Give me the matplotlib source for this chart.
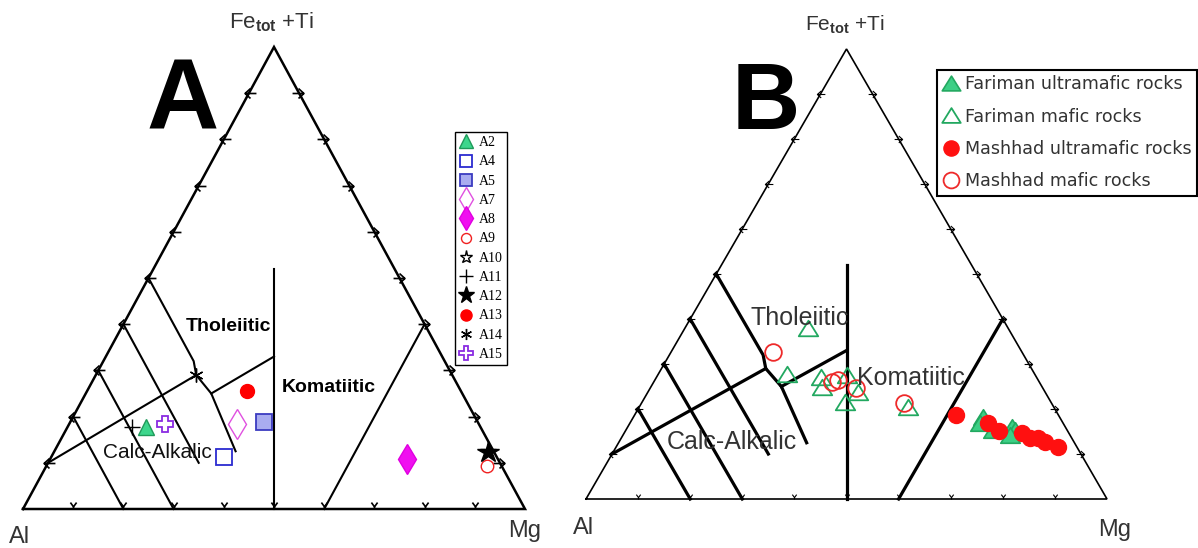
import matplotlib
matplotlib.use('Agg')
import matplotlib.pyplot as plt
from matplotlib.path import Path
import numpy as np

plt.rcParams['font.family'] = ['Liberation Sans', 'DejaVu Sans']
plt.rcParams['mathtext.fontset'] = 'custom'
plt.rcParams['mathtext.rm'] = 'Liberation Sans'
plt.rcParams['mathtext.bf'] = 'Liberation Sans:bold'

# Jensen cation plot boundaries, points given as (Al, Fe+Ti, Mg)
boundaries = [
    [(0.5, 0.0, 0.5), (0.24, 0.52, 0.24)],
    [(0.4, 0.0, 0.6), (0.0, 0.4, 0.6)],
    [(0.8, 0.2, 0.0), (0.8, 0.0, 0.2)],
    [(0.7, 0.3, 0.0), (0.7, 0.0, 0.3)],
    [(0.6, 0.4, 0.0), (0.6, 0.1, 0.3)],
    [(0.5, 0.5, 0.0), (0.5, 0.32, 0.18), (0.51, 0.29, 0.20),
     (0.5, 0.25, 0.25), (0.514, 0.125, 0.361)],
    [(0.9, 0.1, 0.0), (0.51, 0.29, 0.20)],
    [(0.5, 0.25, 0.25), (0.335, 0.33, 0.335)],
]

# panel A samples
a_names = ['A2', 'A4', 'A5', 'A7', 'A8', 'A9', 'A10', 'A11', 'A12', 'A13', 'A14', 'A15']
a_al = [0.666, 0.543, 0.426, 0.482, 0.181, 0.029, 0.012, 0.694, 0.012, 0.426, 0.510, 0.625]
a_fe = [0.178, 0.113, 0.188, 0.184, 0.108, 0.093, 0.123, 0.178, 0.123, 0.255, 0.290, 0.184]
a_mg = [0.156, 0.344, 0.386, 0.334, 0.711, 0.878, 0.865, 0.128, 0.865, 0.319, 0.200, 0.191]

# panel B groups
fum_al = [0.147, 0.159, 0.142, 0.102, 0.100, 0.115]
fum_fe = [0.182, 0.169, 0.153, 0.160, 0.153, 0.142]
fum_mg = [0.671, 0.672, 0.705, 0.738, 0.747, 0.743]

fmaf_al = [0.384, 0.475, 0.413, 0.422, 0.361, 0.359, 0.395, 0.280]
fmaf_fe = [0.380, 0.278, 0.271, 0.249, 0.276, 0.238, 0.216, 0.204]
fmaf_mg = [0.236, 0.247, 0.316, 0.329, 0.363, 0.403, 0.389, 0.516]

mum_al = [0.196, 0.144, 0.132, 0.090, 0.080, 0.065, 0.056, 0.036]
mum_fe = [0.187, 0.169, 0.151, 0.147, 0.136, 0.136, 0.127, 0.116]
mum_mg = [0.617, 0.687, 0.717, 0.763, 0.784, 0.799, 0.817, 0.848]

mmaf_al = [0.477, 0.398, 0.384, 0.358, 0.283]
mmaf_fe = [0.327, 0.260, 0.264, 0.247, 0.213]
mmaf_mg = [0.196, 0.342, 0.352, 0.395, 0.504]

b_labels = ['Fariman ultramafic rocks', 'Fariman mafic rocks',
            'Mashhad ultramafic rocks', 'Mashhad mafic rocks']

a_styles = {
    'A2': dict(marker='^', mfc='#3dd68c', mec='#1f9a5a', ms=12, mew=1),
    'A4': dict(marker='s', mfc='none', mec='#2b2bd0', ms=11, mew=1.3),
    'A5': dict(marker='s', mfc='#a9acf0', mec='#3b3bc0', ms=11, mew=1.3),
    'A7': dict(marker='d', mfc='none', mec='#e050e0', ms=15, mew=1),
    'A8': dict(marker='d', mfc='#f010f0', mec='#e000e0', ms=15, mew=1),
    'A9': dict(marker='o', mfc='none', mec='#f02020', ms=9, mew=1),
    'A10': dict(marker='*', mfc='none', mec='k', ms=12, mew=1),
    'A11': dict(marker='+', mec='k', ms=12, mew=1),
    'A12': dict(marker='*', mfc='k', mec='k', ms=16, mew=1),
    'A13': dict(marker='o', mfc='#ff0000', mec='#ff0000', ms=10, mew=1),
    'A14': dict(marker=(6, 2, 0), mec='k', ms=10, mew=1),
    'A15': dict(marker='P', mfc='none', mec='#8a2be2', ms=12, mew=1.3),
}


def tern_xy(al, fe, mg):
    al, fe, mg = (np.asarray(v, dtype=float) for v in (al, fe, mg))
    s = al + fe + mg
    return (mg + fe / 2) / s, fe / s


def tick_path(side):
    if side == 'base':
        verts = np.array([(0, 0), (0, 0.35), (-0.4, 0.9), (0, 0.35), (0.4, 0.9)])
    else:
        verts = np.array([(0.7, 0), (-0.45, 0), (0.1, 0.5), (-0.45, 0), (0.1, -0.5)])
        if side == 'right':
            verts[:, 0] *= -1
    codes = [Path.MOVETO, Path.LINETO, Path.MOVETO, Path.LINETO, Path.LINETO]
    return Path(verts, codes)


tri_marker = Path([(0, 0.8), (-1, -0.8), (1, -0.8), (0, 0.8)],
                  [Path.MOVETO, Path.LINETO, Path.LINETO, Path.CLOSEPOLY])

W, H = 1198, 548
fig = plt.figure(figsize=(W / 100, H / 100), dpi=100)


def tri_axes(left, right, top, base):
    ax = fig.add_axes([left / W, 1 - base / H, (right - left) / W, (base - top) / H])
    ax.set_xlim(0, 1)
    ax.set_ylim(0, 1)
    ax.axis('off')
    return ax


def draw_frame(ax, edge_lw, line_lw, tick_ms, tick_lw):
    ax.plot([0, 1, 0.5, 0], [0, 0, 1, 0], color='k', lw=edge_lw,
            clip_on=False, solid_joinstyle='miter')
    for b in boundaries:
        al, fe, mg = zip(*b)
        x, y = tern_xy(al, fe, mg)
        ax.plot(x, y, color='k', lw=line_lw, clip_on=False)
    t = np.arange(1, 10) / 10
    kw = dict(ls='none', ms=tick_ms, mfc='none', mec='k', mew=tick_lw, clip_on=False)
    ax.plot(t / 2, t, marker=tick_path('left'), **kw)
    ax.plot(1 - t / 2, t, marker=tick_path('right'), **kw)
    ax.plot(t, np.zeros_like(t), marker=tick_path('base'), **kw)


# ---------------- panel A ----------------
axA = tri_axes(23, 525, 47, 509)
draw_frame(axA, 1.8, 1.5, 10, 1.2)
handles = []
for i, name in enumerate(a_names):
    x, y = tern_xy([a_al[i]], [a_fe[i]], [a_mg[i]])
    h, = axA.plot(x, y, ls='none', label=name, clip_on=False, **a_styles[name])
    handles.append(h)

axA.text(0.410, 0.394, 'Tholeiitic', fontsize=14, fontweight='bold', ha='center', va='center')
axA.text(0.610, 0.262, 'Komatiitic', fontsize=14, fontweight='bold', ha='center', va='center')
axA.text(0.267, 0.123, 'Calc-Alkalic', fontsize=15, color='#111111', ha='center', va='center')
axA.text(0.494, 1.054, r'Fe$_{\mathbf{tot}}$ +Ti', fontsize=16, color='#333333', ha='center', va='center')
axA.text(-0.006, -0.061, 'Al', fontsize=17, color='#333333', ha='center', va='center')
axA.text(1.0, -0.048, 'Mg', fontsize=17, color='#333333', ha='center', va='center')
axA.text(0.319, 0.878, 'A', fontsize=72, fontweight='bold', ha='center', va='center')

legA = axA.legend(handles=handles, loc='upper left', bbox_to_anchor=(455 / W, 1 - 132 / H),
                  bbox_transform=fig.transFigure, prop={'family': 'Liberation Serif', 'size': 10},
                  frameon=True, fancybox=False, framealpha=1, edgecolor='k',
                  handlelength=1.0, handletextpad=0.4, borderpad=0.3, labelspacing=0.45,
                  markerscale=0.8, borderaxespad=0)
legA.get_frame().set_linewidth(1.0)

# ---------------- panel B ----------------
axB = tri_axes(586, 1107, 49, 499)
draw_frame(axB, 1.2, 2.3, 7, 0.8)
x, y = tern_xy(fum_al, fum_fe, fum_mg)
h1, = axB.plot(x, y, ls='none', marker=tri_marker, ms=14, mfc='#3ccf85', mec='#22a860',
               mew=1.2, label=b_labels[0], clip_on=False)
x, y = tern_xy(fmaf_al, fmaf_fe, fmaf_mg)
h2, = axB.plot(x, y, ls='none', marker=tri_marker, ms=14, mfc='none', mec='#22a860',
               mew=1.3, label=b_labels[1], clip_on=False)
x, y = tern_xy(mum_al, mum_fe, mum_mg)
h3, = axB.plot(x, y, ls='none', marker='o', ms=11.5, mfc='#ff1010', mec='#ff1010',
               label=b_labels[2], clip_on=False)
x, y = tern_xy(mmaf_al, mmaf_fe, mmaf_mg)
h4, = axB.plot(x, y, ls='none', marker='o', ms=12, mfc='none', mec='#ee2a2a', mew=1.3,
               label=b_labels[3], clip_on=False)

axB.text(0.411, 0.402, 'Tholeiitic', fontsize=18, color='#333333', ha='center', va='center')
axB.text(0.624, 0.269, 'Komatiitic', fontsize=18, color='#333333', ha='center', va='center')
axB.text(0.280, 0.127, 'Calc-Alkalic', fontsize=18, color='#333333', ha='center', va='center')
axB.text(0.497, 1.053, r'Fe$_{\mathbf{tot}}$ +Ti', fontsize=15, color='#333333', ha='center', va='center')
axB.text(-0.004, -0.064, 'Al', fontsize=17, color='#333333', ha='center', va='center')
axB.text(1.015, -0.069, 'Mg', fontsize=17, color='#333333', ha='center', va='center')
axB.text(0.345, 0.876, 'B', fontsize=68, fontweight='bold', ha='center', va='center')

legB = axB.legend(handles=[h1, h2, h3, h4], loc='upper left', bbox_to_anchor=(937 / W, 1 - 70 / H),
                  bbox_transform=fig.transFigure, prop={'family': 'DejaVu Sans', 'size': 12.6},
                  frameon=True, fancybox=False, framealpha=1, edgecolor='k',
                  handlelength=1.0, handletextpad=0.3, borderpad=0.3, labelspacing=0.82,
                  markerscale=0.95, borderaxespad=0, labelcolor='#333333')
legB.get_frame().set_linewidth(1.5)

fig.savefig('out.png', dpi=100)
